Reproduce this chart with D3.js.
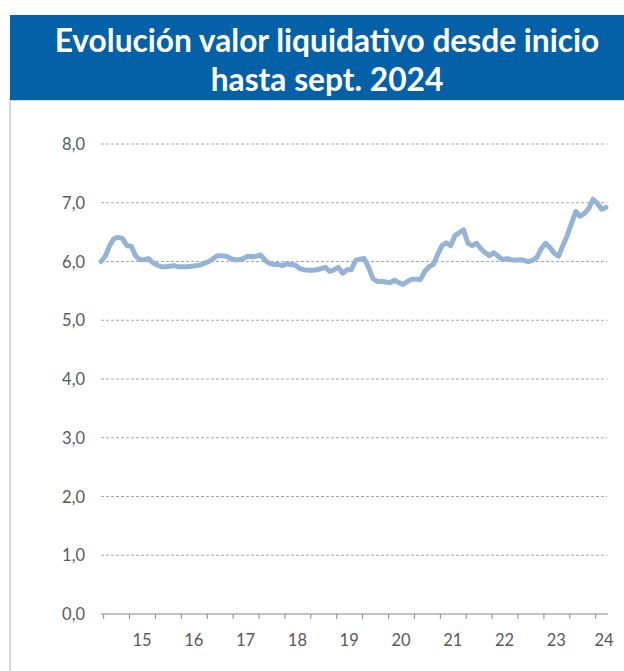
<!DOCTYPE html>
<html><head><meta charset="utf-8">
<script src="https://cdn.jsdelivr.net/npm/d3@7"></script>
<style>
html,body{margin:0;padding:0;background:#fff;}
svg{display:block;}
</style></head>
<body>
<script>
// Monthly net asset value (valor liquidativo), from mid-2014 to sept. 2024
const values = [6.00,6.09,6.27,6.39,6.41,6.39,6.27,6.26,6.10,6.03,6.03,6.05,5.98,5.94,5.91,5.91,5.92,5.93,5.91,5.91,
5.91,5.92,5.93,5.94,5.97,6.00,6.05,6.10,6.10,6.09,6.05,6.03,6.03,6.05,6.09,6.08,6.09,6.11,6.02,5.97,
5.95,5.95,5.93,5.96,5.95,5.94,5.88,5.86,5.85,5.85,5.86,5.88,5.90,5.83,5.86,5.90,5.80,5.86,5.86,6.02,
6.04,6.05,5.90,5.71,5.66,5.66,5.65,5.64,5.68,5.64,5.61,5.66,5.70,5.70,5.69,5.83,5.91,5.95,6.12,6.27,
6.32,6.27,6.44,6.49,6.54,6.31,6.27,6.31,6.22,6.15,6.10,6.15,6.09,6.03,6.05,6.03,6.02,6.03,6.02,6.00,
6.02,6.07,6.22,6.31,6.24,6.14,6.09,6.27,6.44,6.65,6.85,6.77,6.82,6.90,7.06,6.99,6.89,6.92];
const yTicks = [0,1,2,3,4,5,6,7,8];
const xTickLabels = ["15","16","17","18","19","20","21","22","23","24"];
const titleLines = ["Evolución valor liquidativo desde inicio","hasta sept. 2024"];

const W = 624, H = 671;
const svg = d3.select("body").append("svg").attr("width", W).attr("height", H);

// frame
svg.append("rect").attr("x",10).attr("y",100).attr("width",W).attr("height",H)
  .attr("fill","#fff").attr("stroke","#D9D9D9").attr("stroke-width",2);
// title box
svg.append("rect").attr("x",10).attr("y",15).attr("width",W).attr("height",85).attr("fill","#0461A8");
const tcx = 327;
const tt = svg.selectAll(".title").data(titleLines).enter().append("text")
  .attr("x",tcx).attr("y",(d,i)=>52+i*39)
  .attr("text-anchor","middle").attr("fill","#fff")
  .attr("font-family","Lato, 'Open Sans', sans-serif").attr("font-weight","bold")
  .attr("font-size",28).text(d=>d);
// fit first line to reference width
const w0 = tt.nodes()[0].getComputedTextLength();
const fs = 28*545/w0;
tt.attr("font-size",fs);

const x = d3.scaleLinear().domain([0,117]).range([101,606]);
const y = d3.scaleLinear().domain([0,8]).range([614,144]);

// gridlines
svg.append("g").selectAll("line").data(yTicks.filter(d=>d>0)).enter().append("line")
  .attr("x1",101).attr("x2",607).attr("y1",d=>y(d)).attr("y2",d=>y(d))
  .attr("stroke","#A6A6A6").attr("stroke-width",1).attr("stroke-dasharray","3,2");

// y labels
svg.append("g").selectAll("text").data(yTicks).enter().append("text")
  .attr("x",85).attr("y",d=>y(d)+6).attr("text-anchor","end")
  .attr("font-family","Lato, 'Open Sans', sans-serif").attr("font-size",16.5).attr("fill","#595959")
  .text(d=>d3.format(".1f")(d).replace(".",","));

// x axis
const tickVals = d3.range(20).map(k=>0.5+6*k);
const xAxis = d3.axisBottom(x).tickValues(tickVals).tickSize(5).tickFormat("");
const gx = svg.append("g").attr("transform","translate(0,614)").call(xAxis);
gx.select(".domain").attr("stroke","#868686").attr("d","M101,0H608");
gx.selectAll(".tick line").attr("stroke","#868686");

svg.append("g").selectAll("text").data(xTickLabels).enter().append("text")
  .attr("x",(d,i)=>Math.min(x(9.5+12*i),604)).attr("y",646).attr("text-anchor","middle")
  .attr("font-family","Lato, 'Open Sans', sans-serif").attr("font-size",16.5).attr("fill","#595959")
  .text(d=>d);

// line
const line = d3.line().x((d,i)=>x(i)).y(d=>y(d)).curve(d3.curveLinear);
svg.append("path").datum(values).attr("d",line).attr("fill","none")
  .attr("stroke","#95B3D7").attr("stroke-width",5).attr("stroke-linejoin","round").attr("stroke-linecap","round");
</script>
</body></html>
